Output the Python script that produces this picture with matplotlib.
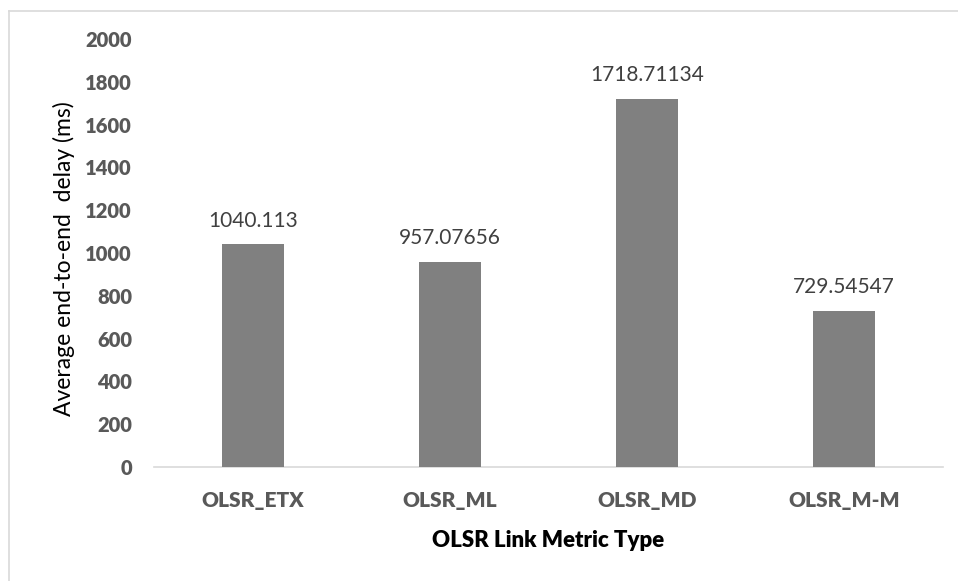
from matplotlib import pyplot as plt
from matplotlib.lines import Line2D
import numpy as np

# DATA
CATS = ['OLSR_ETX', 'OLSR_ML', 'OLSR_MD', 'OLSR_M-M']
DELAY = [1040.113, 957.07656, 1718.71134, 729.54547]
LABELS = ['1040.113', '957.07656', '1718.71134', '729.54547']
YTICKS = list(range(0, 2001, 200))

plt.rcParams['font.family'] = ['Lato', 'DejaVu Sans']

fig = plt.figure(figsize=(9.58, 5.81), dpi=100)
ax = fig.add_axes([0.161, 0.196, 0.823, 0.737])

x = np.arange(len(CATS))
bars = ax.bar(x, DELAY, width=0.315, color='#808080', zorder=3)
for b, lab in zip(bars, LABELS):
    ax.annotate(lab, (b.get_x() + b.get_width()/2, b.get_height()), xytext=(0, 10),
                textcoords='offset points', ha='center', va='bottom', fontsize=15, color='#404040')

ax.set_xlim(-0.5, len(CATS) - 0.5)
ax.set_ylim(0, 2000)
ax.set_yticks(YTICKS)
ax.set_xticks(x, CATS)
for s in ('top', 'right', 'left'):
    ax.spines[s].set_visible(False)
ax.spines['bottom'].set_color('#d9d9d9')
ax.spines['bottom'].set_linewidth(1.2)
ax.tick_params(length=0, labelcolor='#595959')
ax.tick_params(axis='x', pad=17, labelsize=15)
ax.tick_params(axis='y', pad=16, labelsize=14.5)
for t in ax.get_xticklabels() + ax.get_yticklabels():
    t.set_fontweight('heavy')

ax.set_ylabel('Average end-to-end  delay (ms)', fontsize=16.5, color='black')
ax.yaxis.set_label_coords(-0.101, 0.487)
ax.set_xlabel('OLSR Link Metric Type', fontsize=16, fontweight='heavy', color='black')
ax.xaxis.set_label_coords(0.5, -0.148)

# chart frame
fig.add_artist(Line2D([9/958, 9/958], [0, 1 - 11/581], color='#d9d9d9', lw=1.2))
fig.add_artist(Line2D([9/958, 1], [1 - 11/581, 1 - 11/581], color='#d9d9d9', lw=1.2))

fig.savefig('out.png', dpi=100)
